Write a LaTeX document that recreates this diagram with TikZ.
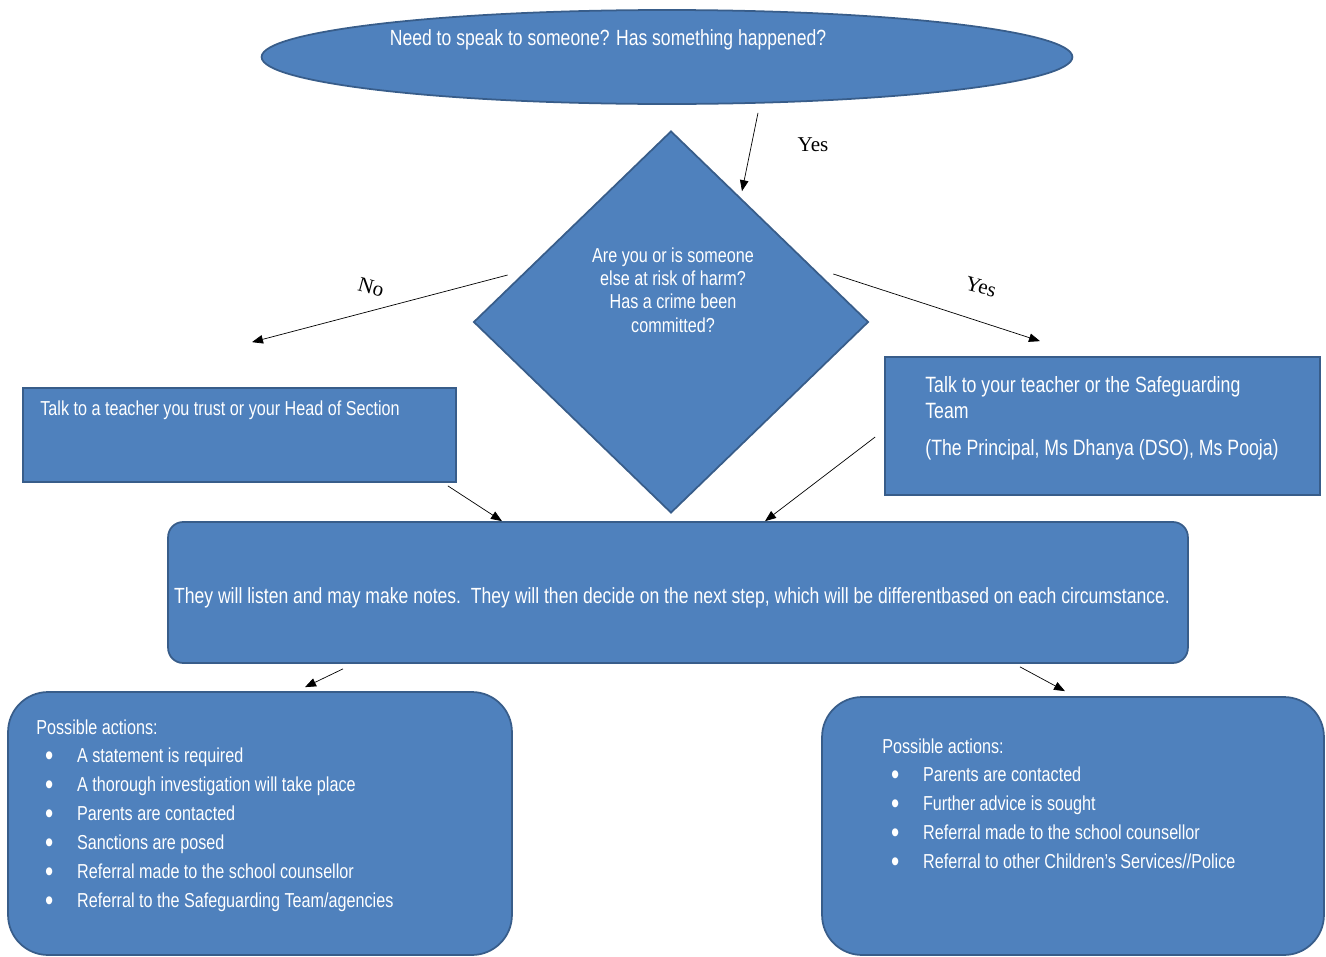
\documentclass[tikz,border=0pt]{standalone}
\usepackage{fontspec}
\usepackage{graphicx}
\setmainfont[FakeStretch=0.8]{Liberation Sans}
\newfontfamily\serifyn{Liberation Serif}
\usepackage{tikz}
\usetikzlibrary{shapes.geometric,arrows.meta,calc}
\definecolor{fillblue}{RGB}{79,129,189}
\definecolor{edgeblue}{RGB}{56,93,138}
\tikzset{
  flowbox/.style={draw=edgeblue,fill=fillblue,line width=1pt,inner sep=0pt},
  txt/.style={text=white,font=\fontsize{11.5}{16.5}\selectfont,inner sep=0pt,align=left},
  bigtxt/.style={txt,font=\fontsize{12.5}{15}\selectfont},
  arr/.style={-{Triangle[length=2.2mm,width=1.7mm]},thin},
  yn/.style={font=\serifyn\fontsize{12}{14}\selectfont,inner sep=1pt}
}
\newcommand{\itm}[1]{\hspace*{5pt}\makebox[18.2pt][l]{\raisebox{-0.12em}{\scalebox{1.45}{\textbullet}}}#1}

\begin{document}
\begin{tikzpicture}[x=0.02cm,y=-0.02cm]
\useasboundingbox (0,0) rectangle (1326,957);
% shapes
\node[flowbox,ellipse,minimum width=16.22cm,minimum height=1.88cm] (top) at (667,57) {};
\node[flowbox,diamond,minimum width=7.9cm,minimum height=7.64cm] (dia) at (671,322) {};
\node[flowbox,minimum width=8.66cm,minimum height=1.88cm] (lbox) at (239.5,435) {};
\node[flowbox,minimum width=8.7cm,minimum height=2.76cm] (rbox) at (1102.5,426) {};
\node[flowbox,rounded corners=0.3cm,minimum width=20.4cm,minimum height=2.82cm] (mid) at (678,592.5) {};
\node[flowbox,rounded corners=0.8cm,minimum width=10.08cm,minimum height=5.26cm] (bl) at (260,823.5) {};
\node[flowbox,rounded corners=0.8cm,minimum width=10.04cm,minimum height=5.16cm] (br) at (1073,826) {};
% texts
\node[bigtxt] (toptxt) at (608,40) {Need to speak to someone? Has something happened?};
\node[txt,align=center,font=\fontsize{11.5}{13.3}\selectfont] (diatxt) at (673,290) {Are you or is someone\\else at risk of harm?\\Has a crime been\\committed?};
\node[txt,anchor=west] (ltxt) at (40,410) {Talk to a teacher you trust or your Head of Section};
\node[txt,anchor=north west,font=\fontsize{12.6}{14.7}\selectfont] (rtxt) at (925,376) {Talk to your teacher or the Safeguarding\\Team\\[6.5pt](The Principal, Ms Dhanya (DSO), Ms Pooja)};
\node[bigtxt] (midtxt) at (672,598) {They will listen and may make notes.\ \ They will then decide on the next step, which will be differentbased on each circumstance.};
\node[txt,anchor=north west] (bltxt) at (36,719) {Possible actions:\\
  \itm{A statement is required}\\
  \itm{A thorough investigation will take place}\\
  \itm{Parents are contacted}\\
  \itm{Sanctions are posed}\\
  \itm{Referral made to the school counsellor}\\
  \itm{Referral to the Safeguarding Team/agencies}};
\node[txt,anchor=north west] (brtxt) at (882,738) {Possible actions:\\
  \itm{Parents are contacted}\\
  \itm{Further advice is sought}\\
  \itm{Referral made to the school counsellor}\\
  \itm{Referral to other Children's Services//Police}};
% connectors
\draw[arr] ($(top.south)+(91,8)$) -- ($(dia.north)+(71,61)$);
\draw[arr] ($(dia.west)+(35,-47)$) -- ($(lbox.north)+(12.5,-45)$);
\draw[arr] ($(dia.east)+(-36,-48)$) -- ($(rbox.north)+(-62.5,-15)$);
\draw[arr] ($(lbox.south east)+(-9,3)$) -- ($(mid.north)+(-176,0)$);
\draw[arr] ($(rbox.west)+(-9,11)$) -- ($(mid.north)+(87,0)$);
\draw[arr] ($(mid.south)+(-335,5)$) -- ($(bl.north)+(45,-4)$);
\draw[arr] ($(mid.south)+(342,3)$) -- ($(br.north)+(-8,-5)$);
% labels
\node[yn] (yes1) at (813,145) {Yes};
\node[yn,rotate=-15] (no1) at (371,287) {No};
\node[yn,rotate=-15] (yes2) at (981,287) {Yes};
\end{tikzpicture}
\end{document}
